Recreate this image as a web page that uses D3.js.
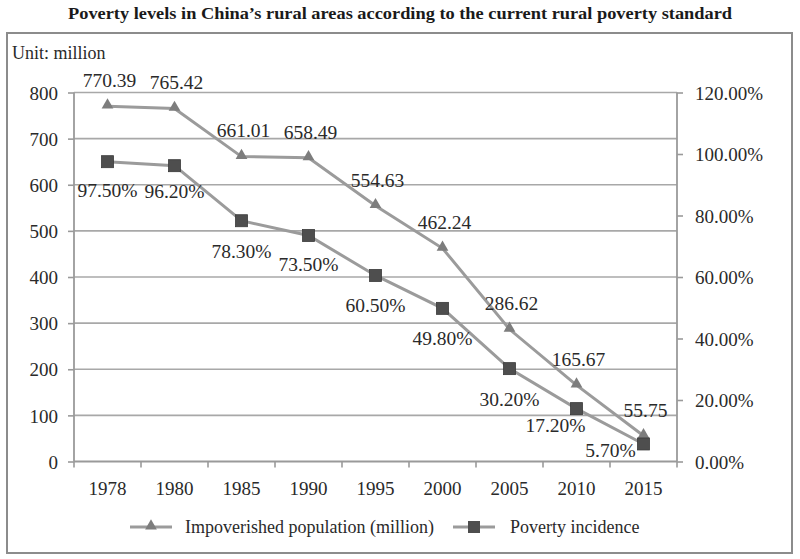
<!DOCTYPE html>
<html>
<head>
<meta charset="utf-8">
<script src="https://cdn.jsdelivr.net/npm/d3@7"></script>
<style>
  html, body { margin: 0; padding: 0; background: #fff; }
  svg { display: block; }
  svg text { font-family: "Liberation Serif", "Times New Roman", serif !important; fill: #2a2a2a; }
</style>
</head>
<body>
<svg id="chart" width="800" height="559"></svg>
<script>
const title = "Poverty levels in China\u2019s rural areas according to the current rural poverty standard";
const unitLabel = "Unit: million";
const years = ["1978", "1980", "1985", "1990", "1995", "2000", "2005", "2010", "2015"];
const population = [770.39, 765.42, 661.01, 658.49, 554.63, 462.24, 286.62, 165.67, 55.75];
const incidence = [97.5, 96.2, 78.3, 73.5, 60.5, 49.8, 30.2, 17.2, 5.7];
const leftTicks = [0, 100, 200, 300, 400, 500, 600, 700, 800];
const rightTicks = [0, 20, 40, 60, 80, 100, 120];
const seriesNames = ["Impoverished population (million)", "Poverty incidence"];

const svg = d3.select("#chart");
const W = 800, H = 559;
const m = { left: 74, right: 123, top: 92.5, bottom: 97.5 };
const pw = W - m.left - m.right, ph = H - m.top - m.bottom;

// outer frame
svg.append("rect").attr("x", 7).attr("y", 33).attr("width", 785).attr("height", 520)
  .attr("fill", "none").attr("stroke", "#8c8c8c").attr("stroke-width", 2);

svg.append("text").attr("x", 400).attr("y", 19).attr("text-anchor", "middle")
  .attr("textLength", 664).attr("lengthAdjust", "spacingAndGlyphs")
  .style("font-weight", "bold").style("font-size", "17px").style("fill", "#1a1a1a").text(title);

svg.append("text").attr("x", 12).attr("y", 59).style("font-size", "18px").text(unitLabel);

const g = svg.append("g").attr("transform", `translate(${m.left},${m.top})`);

const x = d3.scaleBand().domain(years).range([0, pw]);
const yL = d3.scaleLinear().domain([0, 800]).range([ph, 0]);
const yR = d3.scaleLinear().domain([0, 120]).range([ph, 0]);
const cx = d => x(d) + x.bandwidth() / 2;

// gridlines
g.append("g").selectAll("line").data(leftTicks.filter(d => d > 0)).join("line")
  .attr("x1", 0).attr("x2", pw).attr("y1", d => yL(d)).attr("y2", d => yL(d))
  .attr("stroke", "#a8a8a8").attr("stroke-width", 1.6);

// left axis
const axL = g.append("g").call(d3.axisLeft(yL).tickValues(leftTicks).tickSize(6).tickPadding(10));
axL.select(".domain").attr("stroke", "#9a9a9a").attr("stroke-width", 1.8).attr("d", `M0,${ph}V0`);
axL.selectAll(".tick line").attr("stroke", "#9a9a9a").attr("stroke-width", 1.6);
axL.selectAll("text").style("font-size", "19px").attr("fill", "#2a2a2a").attr("dy", "0.35em");

// right axis
const axR = g.append("g").attr("transform", `translate(${pw},0)`)
  .call(d3.axisRight(yR).tickValues(rightTicks).tickSize(6).tickPadding(12).tickFormat(d => d.toFixed(2) + "%"));
axR.select(".domain").attr("stroke", "#9a9a9a").attr("stroke-width", 1.8).attr("d", `M0,${ph}V0`);
axR.selectAll(".tick line").attr("stroke", "#9a9a9a").attr("stroke-width", 1.6);
axR.selectAll("text").style("font-size", "19px").attr("fill", "#2a2a2a").attr("dy", "0.35em");

// bottom axis: ticks at band boundaries
const axB = g.append("g").attr("transform", `translate(0,${ph})`);
axB.append("line").attr("x1", 0).attr("x2", pw).attr("stroke", "#9a9a9a").attr("stroke-width", 1.8);
const bounds = years.map(d => x(d)).concat([pw]);
axB.selectAll("line.tk").data(bounds).join("line").attr("class", "tk")
  .attr("x1", d => d).attr("x2", d => d).attr("y1", 0).attr("y2", 6)
  .attr("stroke", "#9a9a9a").attr("stroke-width", 1.6);
axB.selectAll("text").data(years).join("text")
  .attr("x", d => cx(d)).attr("y", 27).attr("dy", "0.35em").attr("text-anchor", "middle")
  .style("font-size", "19px").text(d => d);

// lines
const lineCol = "#9b9b9b";
const popLine = d3.line().x((d, i) => cx(years[i])).y(d => yL(d));
const incLine = d3.line().x((d, i) => cx(years[i])).y(d => yR(d));
g.append("path").datum(population).attr("d", popLine).attr("fill", "none").attr("stroke", lineCol).attr("stroke-width", 3);
g.append("path").datum(incidence).attr("d", incLine).attr("fill", "none").attr("stroke", lineCol).attr("stroke-width", 3);

const tri = d3.symbol().type(d3.symbolTriangle).size(60);
g.selectAll("path.tri").data(population).join("path").attr("class", "tri")
  .attr("transform", (d, i) => `translate(${cx(years[i])},${yL(d) - 1})`)
  .attr("d", tri).attr("fill", "#7d7d7d");
g.selectAll("rect.sq").data(incidence).join("rect").attr("class", "sq")
  .attr("x", (d, i) => cx(years[i]) - 6).attr("y", d => yR(d) - 6)
  .attr("width", 12).attr("height", 12).attr("fill", "#4e4e4e").attr("stroke", "#3a3a3a").attr("stroke-width", 0.8);

// value labels
g.selectAll("text.pop").data(population).join("text").attr("class", "pop")
  .attr("x", (d, i) => cx(years[i]) + 2).attr("y", d => yL(d) - 26).attr("dy", "0.35em")
  .attr("text-anchor", "middle").style("font-size", "19.5px").text(d => d.toFixed(2));

// label nudges for crowded points at the low end
const incNudgeX = [0, 0, 0, 0, 0, 0, 0, -21, -33];
const incNudgeY = [28, 25, 30, 29, 30, 30, 31, 17, 6];
g.selectAll("text.inc").data(incidence).join("text").attr("class", "inc")
  .attr("x", (d, i) => cx(years[i]) + incNudgeX[i]).attr("y", (d, i) => yR(d) + incNudgeY[i]).attr("dy", "0.35em")
  .attr("text-anchor", "middle").style("font-size", "19.5px").text(d => d.toFixed(2) + "%");

// legend
const leg = svg.append("g").attr("transform", "translate(0,527)");
leg.append("line").attr("x1", 130).attr("x2", 172).attr("stroke", lineCol).attr("stroke-width", 3);
leg.append("path").attr("transform", "translate(151,-1)").attr("d", tri).attr("fill", "#7d7d7d");
leg.append("text").attr("x", 185).attr("dy", "0.35em").style("font-size", "18px").text(seriesNames[0]);
leg.append("line").attr("x1", 453).attr("x2", 495).attr("stroke", lineCol).attr("stroke-width", 3);
leg.append("rect").attr("x", 468).attr("y", -6).attr("width", 12).attr("height", 12).attr("fill", "#4e4e4e");
leg.append("text").attr("x", 510).attr("dy", "0.35em").style("font-size", "18px").text(seriesNames[1]);
</script>
</body>
</html>
